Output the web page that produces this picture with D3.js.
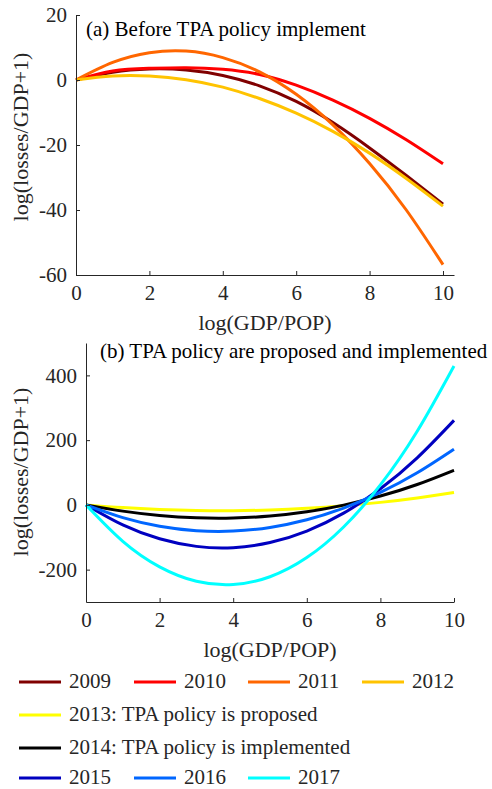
<!DOCTYPE html>
<html>
<head>
<meta charset="utf-8">
<script src="https://cdn.jsdelivr.net/npm/d3@7"></script>
<style>
  body { margin: 0; background: #fff; }
  svg text { font-family: 'Liberation Serif', 'Times New Roman', serif; fill: #262626; }
  .axis path, .axis line { stroke: #262626; stroke-width: 1; }
  .axis text { font-size: 21px; }
</style>
</head>
<body>
<div id="chart"></div>
<script>
const xs = [0, 1, 2, 3, 4, 5, 6, 7, 8, 9, 10];

// (a) before TPA policy
const y2009 = [0, 2.4, 3.4, 3.1, 1.4, -1.8, -6.6, -13.1, -20.9, -29.4, -38.2];
const y2010 = [0, 2.8, 3.6, 3.8, 3.3, 1.7, -1.6, -6.2, -11.8, -18.4, -25.8];
const y2011 = [0, 5.4, 8.4, 8.9, 6.9, 2.5, -4.4, -13.8, -25.7, -40.0, -56.8];
const y2012 = [0, 1.2, 1.2, 0.1, -2.2, -5.7, -10.2, -15.8, -22.5, -30.3, -38.8];

// (b) TPA policy proposed / implemented
const y2013 = [0, -8.4, -14.1, -17.3, -17.9, -15.7, -10.7, -2.9, 7.7, 21.4, 38];
const y2014 = [0, -19.3, -32.7, -39.8, -40.5, -34.4, -21.2, -0.8, 27.2, 63.0, 107];
const y2015 = [0, -62.0, -104.8, -128.2, -132.1, -116.4, -80.9, -25.6, 49.8, 145.3, 261];
const y2016 = [0, -39.3, -65.9, -79.7, -81.0, -69.7, -46.0, -9.9, 38.5, 99.1, 172];
const y2017 = [0, -112.5, -191.3, -235.9, -246.3, -222, -162.8, -68.3, 61.6, 227.3, 429];

const xTicks = [0, 2, 4, 6, 8, 10];
const yTicksA = [-60, -40, -20, 0, 20];
const yTicksB = [-200, 0, 200, 400];

const seriesA = [
  { name: '2009', values: y2009, color: '#800000' },
  { name: '2010', values: y2010, color: '#ff0000' },
  { name: '2011', values: y2011, color: '#ff6600' },
  { name: '2012', values: y2012, color: '#ffc300' },
];
const seriesB = [
  { name: '2013: TPA policy is proposed', values: y2013, color: '#ffff00' },
  { name: '2014: TPA policy is implemented', values: y2014, color: '#000000' },
  { name: '2015', values: y2015, color: '#0000c0' },
  { name: '2016', values: y2016, color: '#0066ff' },
  { name: '2017', values: y2017, color: '#00ffff' },
];

const width = 492, height = 789;
const serif = "'Liberation Serif', 'Times New Roman', serif";

const svg = d3.select('#chart')
  .append('svg')
  .attr('width', width)
  .attr('height', height)
  .style('font-family', serif);

function panel(opts) {
  const x = d3.scaleLinear().domain(opts.xDomain).range([opts.left, opts.right]);
  const y = d3.scaleLinear().domain(opts.yDomain).range([opts.bottom, opts.top]);

  const line = d3.line()
    .x((d, i) => x(xs[i]))
    .y((d) => y(d))
    .curve(d3.curveNatural);

  opts.series.forEach((s) => {
    svg.append('path')
      .datum(s.values)
      .attr('fill', 'none')
      .attr('stroke', s.color)
      .attr('stroke-width', 3)
      .attr('d', line);
  });

  // x axis, ticks pointing inward
  svg.append('g')
    .attr('class', 'axis')
    .attr('transform', `translate(0,${opts.bottom})`)
    .call(d3.axisBottom(x).tickValues(xTicks).tickSizeInner(-4).tickSizeOuter(0)
      .tickPadding(10).tickFormat((d) => String(d)))
    .attr('font-family', serif);

  // y axis
  svg.append('g')
    .attr('class', 'axis')
    .attr('transform', `translate(${opts.left},0)`)
    .call(d3.axisLeft(y).tickValues(opts.yTicks).tickSizeInner(-4).tickSizeOuter(0)
      .tickPadding(9).tickFormat((d) => String(d)))
    .attr('font-family', serif);

  svg.append('text')
    .attr('x', (opts.left + opts.right) / 2)
    .attr('y', opts.xLabelY)
    .attr('text-anchor', 'middle')
    .style('font-size', '22px')
    .text('log(GDP/POP)');

  svg.append('text')
    .attr('transform', `translate(28,${opts.yLabelY}) rotate(-90)`)
    .attr('text-anchor', 'middle')
    .style('font-size', '22px')
    .text('log(losses/GDP+1)');

  svg.append('text')
    .attr('x', opts.titleX)
    .attr('y', opts.titleY)
    .style('font-size', '21px')
    .style('fill', '#000')
    .text(opts.title);
}

panel({
  series: seriesA,
  xDomain: [0, 10.3], yDomain: [-60, 20], yTicks: yTicksA,
  left: 76, right: 454, top: 15, bottom: 275,
  xLabelY: 330, yLabelY: 137,
  title: '(a) Before TPA policy implement', titleX: 86, titleY: 36,
});

panel({
  series: seriesB,
  xDomain: [0, 10], yDomain: [-300, 500], yTicks: yTicksB,
  left: 86, right: 454, top: 343, bottom: 602,
  xLabelY: 657, yLabelY: 472,
  title: '(b) TPA policy are proposed and implemented', titleX: 100, titleY: 358,
});

// Legend
const legendItems = seriesA.concat(seriesB);
const legendPos = [
  [19, 682], [134, 682], [248, 682], [362, 682],
  [19, 715], [19, 748],
  [19, 778], [134, 778], [248, 778],
];

const legend = svg.append('g').attr('class', 'legend');
legendItems.forEach((s, i) => {
  const [lx, ly] = legendPos[i];
  legend.append('line')
    .attr('x1', lx).attr('x2', lx + 42)
    .attr('y1', ly).attr('y2', ly)
    .attr('stroke', s.color)
    .attr('stroke-width', 3);
  legend.append('text')
    .attr('x', lx + 50)
    .attr('y', ly + 6)
    .style('font-size', '21px')
    .text(s.name);
});
</script>
</body>
</html>
